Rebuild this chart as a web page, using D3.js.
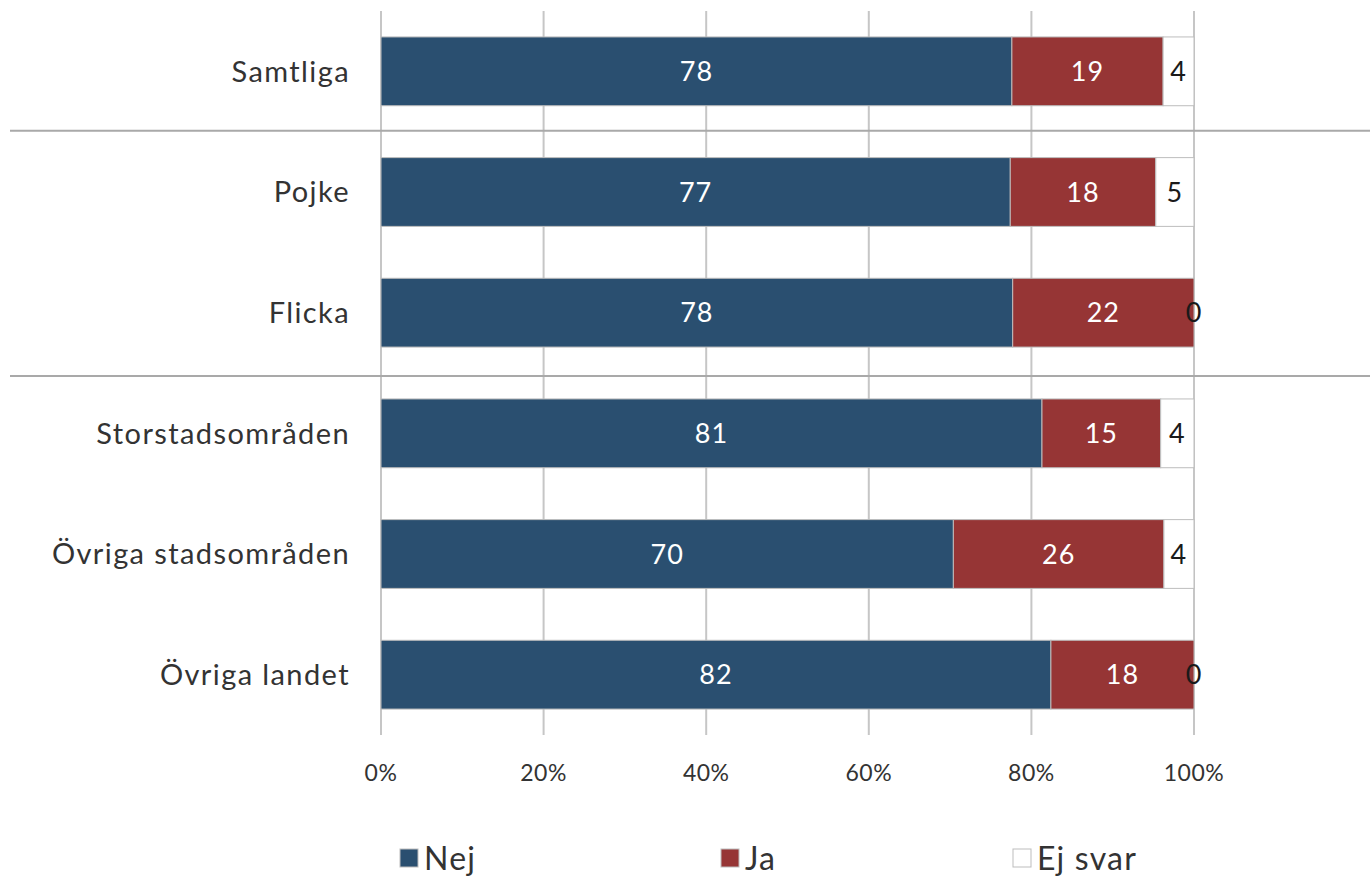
<!DOCTYPE html>
<html><head><meta charset="utf-8">
<script src="https://cdn.jsdelivr.net/npm/d3@7"></script>
<style>
html,body{margin:0;padding:0;background:#fff;}
svg text{font-family:Lato,"Open Sans",sans-serif;}
</style></head>
<body>
<svg id="chart" width="1370" height="876"></svg>
<script>
const categories = ["Samtliga","Pojke","Flicka","Storstadsområden","Övriga stadsområden","Övriga landet"];
const seriesNames = ["Nej","Ja","Ej svar"];
const nej   = [77.6, 77.4, 77.7, 81.3, 70.4, 82.4];
const ja    = [18.6, 17.9, 22.3, 14.6, 25.9, 17.6];
const ejSvar= [3.8, 4.7, 0.0, 4.1, 3.7, 0.0];
const colors = ["#2a4f70","#963535","#ffffff"];
const labelColors = ["#ffffff","#ffffff","#1a1a1a"];
const tickValues = [0,20,40,60,80,100];
const separatorsAfter = [0, 2];

const svg = d3.select("#chart");
const x = d3.scaleLinear().domain([0,100]).range([381,1194]);
const y = d3.scaleBand().domain(categories).range([11,735]).paddingInner(0.43).paddingOuter(0.215);

const rows = categories.map((c,i)=>({cat:c, vals:[nej[i],ja[i],ejSvar[i]]}));

// gridlines
svg.append("g").selectAll("line").data(tickValues).join("line")
  .attr("x1",d=>x(d)).attr("x2",d=>x(d)).attr("y1",11).attr("y2",735)
  .attr("stroke","#c6c6c6").attr("stroke-width",2);

// separators
const step = y.step();
svg.append("g").selectAll("line").data(separatorsAfter).join("line")
  .attr("x1",10).attr("x2",1370)
  .attr("y1",(d,i)=>y(categories[d]) + y.bandwidth() + (step - y.bandwidth())/2 + (i===0?-1:3))
  .attr("y2",(d,i)=>y(categories[d]) + y.bandwidth() + (step - y.bandwidth())/2 + (i===0?-1:3))
  .attr("stroke","#a9a9a9").attr("stroke-width",2);

// bars
const g = svg.append("g");
rows.forEach(r=>{
  let cum = 0;
  r.vals.forEach((v,k)=>{
    const x0 = x(cum), x1 = x(cum+v);
    if (v>0) {
      g.append("rect").attr("x",x0).attr("y",y(r.cat)).attr("width",x1-x0).attr("height",y.bandwidth())
        .attr("fill",colors[k]).attr("stroke","#bdbdbd").attr("stroke-width",1);
    }
    cum += v;
  });
  cum = 0;
  r.vals.forEach((v,k)=>{
    const cx = x(cum + v/2);
    g.append("text").attr("x",cx).attr("y",y(r.cat)+y.bandwidth()/2).attr("dy","0.36em")
      .attr("text-anchor","middle").attr("font-size",27).attr("letter-spacing",1).attr("fill",labelColors[k])
      .text(d3.format(".0f")(v));
    cum += v;
  });
});

// category labels
svg.append("g").selectAll("text").data(categories).join("text")
  .attr("x",350).attr("y",d=>y(d)+y.bandwidth()/2).attr("dy","0.36em")
  .attr("text-anchor","end").attr("font-size",29).attr("letter-spacing",1.4).attr("fill","#333")
  .text(d=>d);

// x axis labels
svg.append("g").selectAll("text").data(tickValues).join("text")
  .attr("x",d=>x(d)).attr("y",773).attr("dy","0.36em").attr("text-anchor","middle")
  .attr("font-size",23).attr("letter-spacing",0.5).attr("fill","#333").text(d=>d+"%");

// legend
const legX = [400, 721, 1013];
const leg = svg.append("g").selectAll("g").data(seriesNames).join("g")
  .attr("transform",(d,i)=>`translate(${legX[i]},849)`);
leg.append("rect").attr("x",0).attr("y",0).attr("width",18).attr("height",18)
  .attr("fill",(d,i)=>colors[i]).attr("stroke","#bdbdbd").attr("stroke-width",1);
leg.append("text").attr("x",24).attr("y",9).attr("dy","0.36em").attr("font-size",32).attr("letter-spacing",1.2).attr("fill","#333").text(d=>d);
</script>
</body></html>
